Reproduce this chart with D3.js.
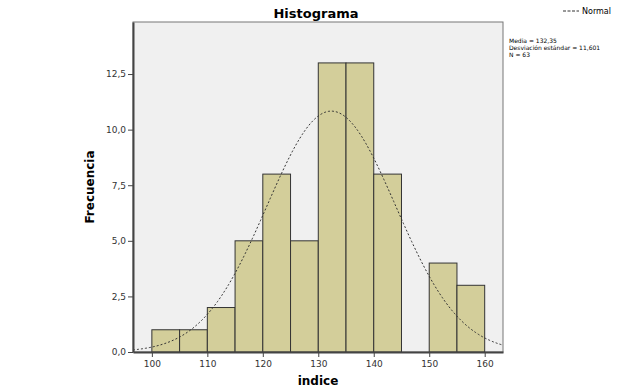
<!DOCTYPE html>
<html>
<head>
<meta charset="utf-8">
<script src="https://cdn.jsdelivr.net/npm/d3@7"></script>
<style>
  body { margin: 0; background: #fff; }
  text { font-family: "DejaVu Sans", sans-serif; }
</style>
</head>
<body>
<div id="chart"></div>
<script>
// histogram bins (indice) and their frequencies
const binStarts = [100, 105, 110, 115, 120, 125, 130, 135, 140, 145, 150, 155];
const binWidth  = 5;
const counts    = [1, 1, 2, 5, 8, 5, 13, 13, 8, 0, 4, 3];
const xTicks    = [100, 110, 120, 130, 140, 150, 160];
const yTicks    = [0, 2.5, 5, 7.5, 10, 12.5];
const mean = 132.35, sd = 11.601, n = 63;
const statLines = ["Media = 132,35", "Desviación estándar = 11,601", "N = 63"];

const W = 639, H = 390;
const plotL = 133, plotR = 503, plotT = 22, plotB = 352;

const svg = d3.select('#chart').append('svg')
  .attr('width', W)
  .attr('height', H);

const x = d3.scaleLinear().domain([96.6, 163.3]).range([plotL, plotR]);
const y = d3.scaleLinear().domain([0, 14.84]).range([plotB, plotT]);

// plot background
svg.append('rect')
  .attr('x', plotL).attr('y', plotT)
  .attr('width', plotR - plotL).attr('height', plotB - plotT)
  .attr('fill', '#f0f0f0')
  .attr('stroke', '#777').attr('stroke-width', 1);

// bars
const bins = binStarts.map((b, i) => ({x0: b, x1: b + binWidth, c: counts[i]}));
svg.selectAll('.bar').data(bins.filter(d => d.c > 0))
  .enter()
  .append('rect')
    .classed('bar', true)
    .attr('x', d => x(d.x0))
    .attr('y', d => y(d.c))
    .attr('width', d => x(d.x1) - x(d.x0))
    .attr('height', d => y(0) - y(d.c))
    .attr('fill', '#d3ce9a')
    .attr('stroke', '#333')
    .attr('stroke-width', 1);

// fitted normal curve, scaled to counts per bin
const pdf = v => n * binWidth * Math.exp(-0.5 * ((v - mean) / sd) ** 2) / (sd * Math.sqrt(2 * Math.PI));
const xs = d3.range(x.domain()[0], x.domain()[1], 0.25);
svg.append('path')
  .datum(xs)
  .attr('fill', 'none')
  .attr('stroke', '#333')
  .attr('stroke-width', 1)
  .attr('stroke-dasharray', '2,2')
  .attr('d', d3.line().x(d => x(d)).y(d => y(pdf(d))));

// axes
const yAxis = svg.append('g')
  .attr('transform', `translate(${plotL},0)`)
  .call(d3.axisLeft(y).tickValues(yTicks).tickSize(5).tickSizeOuter(0)
    .tickFormat(d => d3.format('.1f')(d).replace('.', ',')));
const xAxis = svg.append('g')
  .attr('transform', `translate(0,${plotB})`)
  .call(d3.axisBottom(x).tickValues(xTicks).tickSize(5).tickSizeOuter(0));

[yAxis, xAxis].forEach(g => {
  g.select('.domain').attr('stroke', '#444').attr('stroke-width', 2);
  g.selectAll('.tick line').attr('stroke', '#444');
  g.selectAll('.tick text').attr('fill', '#333').style('font-size', '9px');
});
yAxis.selectAll('.tick text').attr('x', -7);
xAxis.selectAll('.tick text').attr('y', 9);

// titles
svg.append('text')
  .attr('x', 316).attr('y', 18)
  .attr('text-anchor', 'middle')
  .style('font-size', '13px').style('font-weight', 'bold')
  .text('Histograma');
svg.append('text')
  .attr('x', 318).attr('y', 385)
  .attr('text-anchor', 'middle')
  .style('font-size', '12px').style('font-weight', 'bold')
  .text('indice');
svg.append('text')
  .attr('transform', 'translate(94,187) rotate(-90)')
  .attr('text-anchor', 'middle')
  .style('font-size', '12px').style('font-weight', 'bold')
  .text('Frecuencia');

// legend
svg.append('line')
  .attr('x1', 563).attr('x2', 579).attr('y1', 11).attr('y2', 11)
  .attr('stroke', '#333').attr('stroke-dasharray', '3,1.5');
svg.append('text')
  .attr('x', 582).attr('y', 14)
  .style('font-size', '8px')
  .text('Normal');

svg.append('g').selectAll('text').data(statLines)
  .enter()
  .append('text')
    .attr('x', 509)
    .attr('y', (d, i) => 43 + i * 7)
    .style('font-size', '6px')
    .text(d => d);
</script>
</body>
</html>
